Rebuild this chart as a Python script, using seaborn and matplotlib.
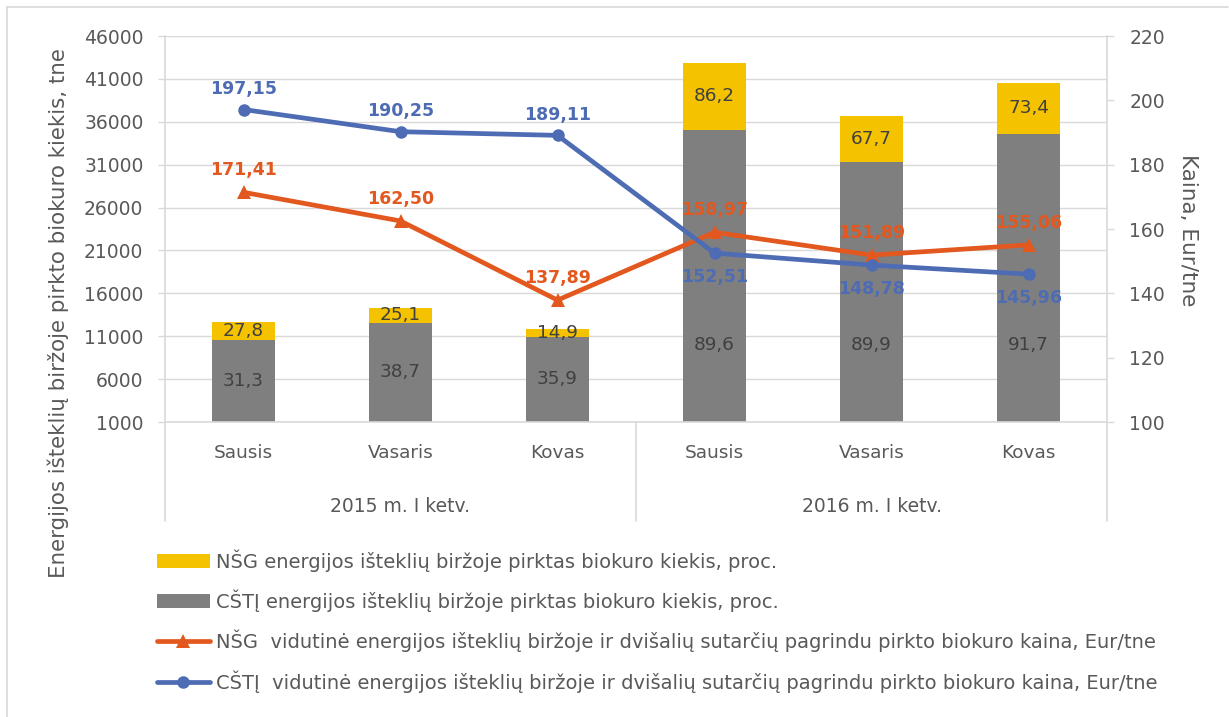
import matplotlib
matplotlib.use("Agg")
import matplotlib.pyplot as plt
import seaborn as sns
import pandas as pd
from matplotlib.lines import Line2D
from matplotlib.patches import Patch
import matplotlib.transforms as mtransforms

# ---------------- data ----------------
months = ["Sausis", "Vasaris", "Kovas", "Sausis", "Vasaris", "Kovas"]
groups = ["2015 m. I ketv.", "2016 m. I ketv."]
keys = ["2015-01", "2015-02", "2015-03", "2016-01", "2016-02", "2016-03"]
cstj_qty = [10560, 12580, 10950, 35040, 31350, 34580]   # tne (gray segment)
nsg_qty = [2100, 1710, 890, 7850, 5320, 5980]          # tne (yellow segment)
cstj_pct = [31.3, 38.7, 35.9, 89.6, 89.9, 91.7]
nsg_pct = [27.8, 25.1, 14.9, 86.2, 67.7, 73.4]
nsg_price = [171.41, 162.50, 137.89, 158.97, 151.89, 155.06]
cstj_price = [197.15, 190.25, 189.11, 152.51, 148.78, 145.96]

legend_labels = [
    "NŠG energijos išteklių biržoje pirktas biokuro kiekis, proc.",
    "CŠTĮ energijos išteklių biržoje pirktas biokuro kiekis, proc.",
    "NŠG  vidutinė energijos išteklių biržoje ir dvišalių sutarčių pagrindu pirkto biokuro kaina, Eur/tne",
    "CŠTĮ  vidutinė energijos išteklių biržoje ir dvišalių sutarčių pagrindu pirkto biokuro kaina, Eur/tne",
]

YELLOW = "#F5C200"
GRAY = "#7F7F7F"
ORANGE = "#E2581F"
BLUE = "#4E6CB4"
TXT = "#595959"
LINEC = "#D9D9D9"

df = pd.DataFrame({
    "key": keys,
    "pos": list(range(len(keys))),
    "cstj": cstj_qty,
    "total": [a + b for a, b in zip(cstj_qty, nsg_qty)],
    "nsg_price": nsg_price,
    "cstj_price": cstj_price,
})

sns.set_theme(style="white")
plt.rcParams["font.family"] = ["DejaVu Sans"]

W, H = 1229, 717
fig = plt.figure(figsize=(W / 100, H / 100), dpi=100)
ax = fig.add_axes([165 / W, 1 - 422 / H, (1107 - 165) / W, (422 - 36) / H])

sns.barplot(data=df, x="key", y="total", order=keys, color=YELLOW, width=0.4,
            saturation=1, linewidth=0, ax=ax)
sns.barplot(data=df, x="key", y="cstj", order=keys, color=GRAY, width=0.4,
            saturation=1, linewidth=0, ax=ax)

ax.set_ylim(1000, 46000)
ax.set_yticks(range(1000, 46001, 5000))
ax.set_xlim(-0.5, len(keys) - 0.5)
ax.yaxis.grid(True, color=LINEC, linewidth=1)
ax.set_axisbelow(True)
ax.set_xlabel("")
ax.set_ylabel("Energijos išteklių biržoje pirkto biokuro kiekis, tne",
              fontsize=15.4, color=TXT, va="center", ha="center")
ax.yaxis.set_label_coords((58 - 165) / 942, (422 - 313) / 386)
ax.set_xticks(range(len(keys)))
ax.set_xticklabels(months)
ax.tick_params(axis="x", length=0, pad=16, labelsize=13.3, labelcolor=TXT)
ax.tick_params(axis="y", length=5, width=1, color=LINEC, pad=10.5,
               labelsize=13.5, labelcolor=TXT, left=True)
for s in ["top", "right"]:
    ax.spines[s].set_visible(False)
for s in ["left", "bottom"]:
    ax.spines[s].set_color(LINEC)
    ax.spines[s].set_linewidth(1.2)

# bar value labels
for i in range(len(keys)):
    vis_bottom = 1000
    gy = min((vis_bottom + cstj_qty[i]) / 2, 10000)
    ax.text(i, gy, f"{cstj_pct[i]:.1f}".replace(".", ","), ha="center", va="center",
            fontsize=13.3, color="#404040")
    yy = cstj_qty[i] + nsg_qty[i] / 2
    ax.text(i, yy, f"{nsg_pct[i]:.1f}".replace(".", ","), ha="center", va="center",
            fontsize=13.3, color="#404040")

# multi-level category separators and group labels
trans = mtransforms.blended_transform_factory(ax.transData, ax.transAxes)
for xv in [-0.5, 2.5, 5.5]:
    ax.add_line(Line2D([xv, xv], [0, -(521 - 422) / 386], transform=trans,
                       color=LINEC, linewidth=1.2, clip_on=False))
for gi, g in enumerate(groups):
    ax.text(gi * 3 + 1, -(506 - 422) / 386, g, transform=trans, ha="center",
            va="center", fontsize=13.5, color=TXT)

# secondary axis with prices
ax2 = ax.twinx()
sns.lineplot(data=df, x="pos", y="nsg_price", ax=ax2, color=ORANGE, linewidth=3.4,
             marker="^", markersize=10, markeredgewidth=0)
sns.lineplot(data=df, x="pos", y="cstj_price", ax=ax2, color=BLUE, linewidth=3.4,
             marker="o", markersize=9, markeredgewidth=0)
ax2.set_ylim(100, 220)
ax2.set_yticks(range(100, 221, 20))
ax2.set_xlim(-0.5, len(keys) - 0.5)
ax2.set_ylabel("Kaina, Eur/tne", fontsize=15.5, color=TXT, rotation=270,
               va="center", ha="center")
ax2.yaxis.set_label_coords(1 + (1188 - 1107) / 942, (422 - 230) / 386)
ax2.set_xlabel("")
ax2.tick_params(axis="y", length=5, width=1, color=LINEC, pad=11,
                labelsize=13.5, labelcolor=TXT, right=True)
for s in ["top", "left", "bottom"]:
    ax2.spines[s].set_visible(False)
ax2.spines["right"].set_color(LINEC)
ax2.spines["right"].set_linewidth(1.2)
ax2.grid(False)

for i in range(len(keys)):
    ax2.annotate(f"{nsg_price[i]:.2f}".replace(".", ","), (i, nsg_price[i]),
                 xytext=(0, 16), textcoords="offset points", ha="center", va="center",
                 fontsize=12.5, fontweight="bold", color=ORANGE)
    dy = 15 if i < 3 else -17
    ax2.annotate(f"{cstj_price[i]:.2f}".replace(".", ","), (i, cstj_price[i]),
                 xytext=(0, dy), textcoords="offset points", ha="center", va="center",
                 fontsize=12.5, fontweight="bold", color=BLUE)

# legend
handles = [
    Patch(facecolor=YELLOW, edgecolor="none"),
    Patch(facecolor=GRAY, edgecolor="none"),
    Line2D([], [], color=ORANGE, linewidth=3.4, marker="^", markersize=10, markeredgewidth=0),
    Line2D([], [], color=BLUE, linewidth=3.4, marker="o", markersize=9, markeredgewidth=0),
]
leg = fig.legend(handles, legend_labels, loc="upper left",
                 bbox_to_anchor=(157 / W, 1 - 549 / H), frameon=False,
                 fontsize=14, labelcolor=TXT, handlelength=2.7, handletextpad=0.35,
                 labelspacing=0.92, borderpad=0, borderaxespad=0)

# chart frame (left and top edges visible)
fig.add_artist(Line2D([7 / W, 7 / W], [0, 1 - 7 / H], transform=fig.transFigure,
                      color=LINEC, linewidth=1.2))
fig.add_artist(Line2D([7 / W, 1228 / W], [1 - 7 / H, 1 - 7 / H], transform=fig.transFigure,
                      color=LINEC, linewidth=1.2))

fig.savefig("out.png", dpi=100, facecolor="white")
